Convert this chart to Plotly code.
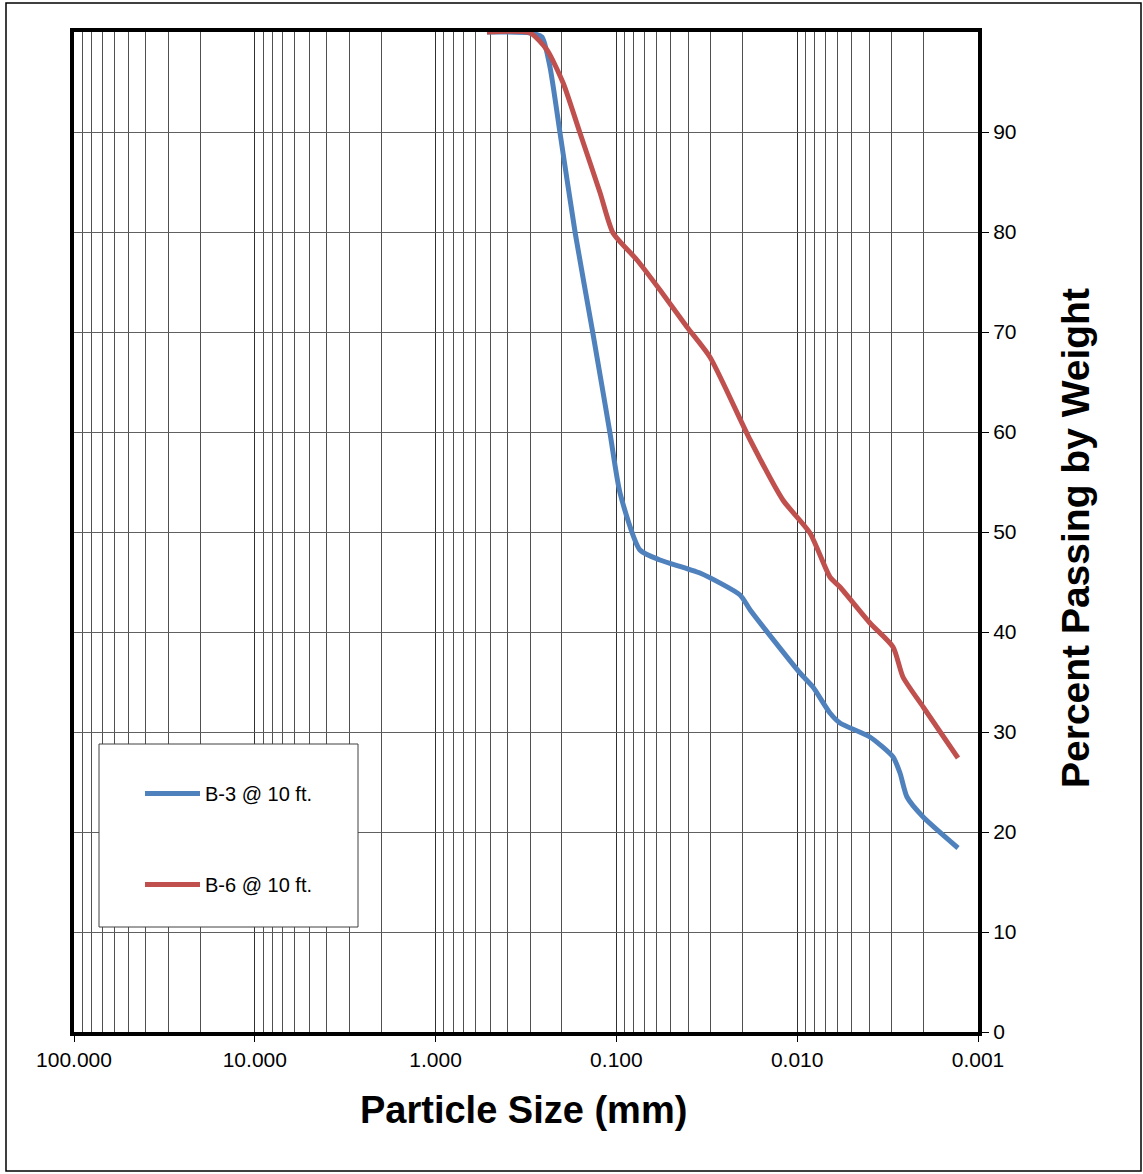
import plotly.graph_objects as go

# ---- data ----
b3_size = [0.52, 0.30, 0.258, 0.233, 0.205, 0.169, 0.135, 0.1085, 0.0955, 0.0741, 0.0574,
           0.0345, 0.0207, 0.0182, 0.00965, 0.00818, 0.00659, 0.0058, 0.00396, 0.00295,
           0.0027, 0.00247, 0.00201, 0.00129]
b3_pct = [100, 99.9, 99.5, 96.5, 89.9, 79.9, 69.9, 59.9, 53.9, 48.2, 47.2,
          45.9, 43.7, 42.2, 35.9, 34.5, 31.9, 30.9, 29.5, 27.5,
          25.9, 23.5, 21.5, 18.4]

b6_size = [0.52, 0.30, 0.242, 0.197, 0.159, 0.123, 0.1044, 0.0769, 0.0574, 0.0407, 0.0304,
           0.0182, 0.0120, 0.0085, 0.00659, 0.0058, 0.00396, 0.00295, 0.0026, 0.00201, 0.00129]
b6_pct = [100, 99.9, 98.2, 94.9, 89.9, 83.9, 79.9, 77.2, 74.2, 70.5, 67.5,
          59.2, 53.2, 49.9, 45.5, 44.5, 40.9, 38.5, 35.5, 32.5, 27.4]

x_tick_vals = [100, 10, 1, 0.1, 0.01, 0.001]
x_tick_text = ["100.000", "10.000", "1.000", "0.100", "0.010", "0.001"]
y_tick_vals = [0, 10, 20, 30, 40, 50, 60, 70, 80, 90]
minor_vals = [m * 10.0 ** e for e in range(-3, 2) for m in range(2, 10)]

FONT = "Liberation Sans, Arial, sans-serif"

fig = go.Figure()
fig.add_trace(go.Scatter(x=b3_size, y=b3_pct, mode="lines", name="B-3 @ 10 ft.",
                         line=dict(color="#4F81BD", width=5, shape="spline", smoothing=0.6),
                         legendgroup="a"))
fig.add_trace(go.Scatter(x=b6_size, y=b6_pct, mode="lines", name="B-6 @ 10 ft.",
                         line=dict(color="#C0504D", width=5, shape="spline", smoothing=0.6),
                         legendgroup="b"))

L, R, T, B = 74, 165, 32, 142
W, H = 1143, 1174
pw, ph = W - L - R, H - T - B

def px(x):
    return (x - L) / pw

def py(y):
    return (H - B - y) / ph

fig.update_layout(
    width=W, height=H,
    margin=dict(l=L, r=R, t=T, b=B),
    paper_bgcolor="white", plot_bgcolor="white",
    font=dict(family=FONT, color="black", size=21),
    showlegend=True,
    legend=dict(x=px(140), y=py(774), xanchor="left", yanchor="top",
                bgcolor="rgba(0,0,0,0)", borderwidth=0,
                font=dict(size=20, family=FONT), tracegroupgap=62,
                itemwidth=55, traceorder="grouped"),
    xaxis=dict(type="log", range=[2, -3], tickmode="array", tickvals=x_tick_vals,
               ticktext=x_tick_text, showgrid=True, gridcolor="#303030", gridwidth=1,
               ticks="outside", ticklen=6, tickcolor="black",
               showline=True, linecolor="black", linewidth=4, mirror=True,
               minor=dict(tickmode="array", tickvals=minor_vals, showgrid=True,
                          gridcolor="#505050", gridwidth=1, ticks=""),
               zeroline=False, tickfont=dict(size=21)),
    yaxis=dict(range=[0, 100], side="right", tickmode="array", tickvals=y_tick_vals,
               showgrid=True, gridcolor="#606060", gridwidth=1,
               ticks="outside", ticklen=7, tickcolor="black",
               showline=True, linecolor="black", linewidth=4, mirror=True,
               zeroline=False, tickfont=dict(size=21)),
    shapes=[
        dict(type="rect", xref="paper", yref="paper", x0=px(6), x1=px(1141),
             y0=py(1171), y1=py(3), line=dict(color="black", width=1.5), layer="below"),
        dict(type="rect", xref="paper", yref="paper", x0=px(99), x1=px(358),
             y0=py(927), y1=py(744), line=dict(color="#404040", width=1),
             fillcolor="white", layer="above"),
    ],
    annotations=[
        dict(text="<b>Particle Size (mm)</b>", xref="paper", yref="paper",
             x=px(523), y=py(1110), showarrow=False, font=dict(size=38, family=FONT),
             xanchor="center", yanchor="middle"),
        dict(text="<b>Percent Passing by Weight</b>", xref="paper", yref="paper",
             x=px(1075), y=py(538), showarrow=False, textangle=-90,
             font=dict(size=39, family=FONT), xanchor="center", yanchor="middle"),
    ],
)

fig.write_html("out.html", config={"displayModeBar": False},
               post_script="document.body.style.margin='0';")
